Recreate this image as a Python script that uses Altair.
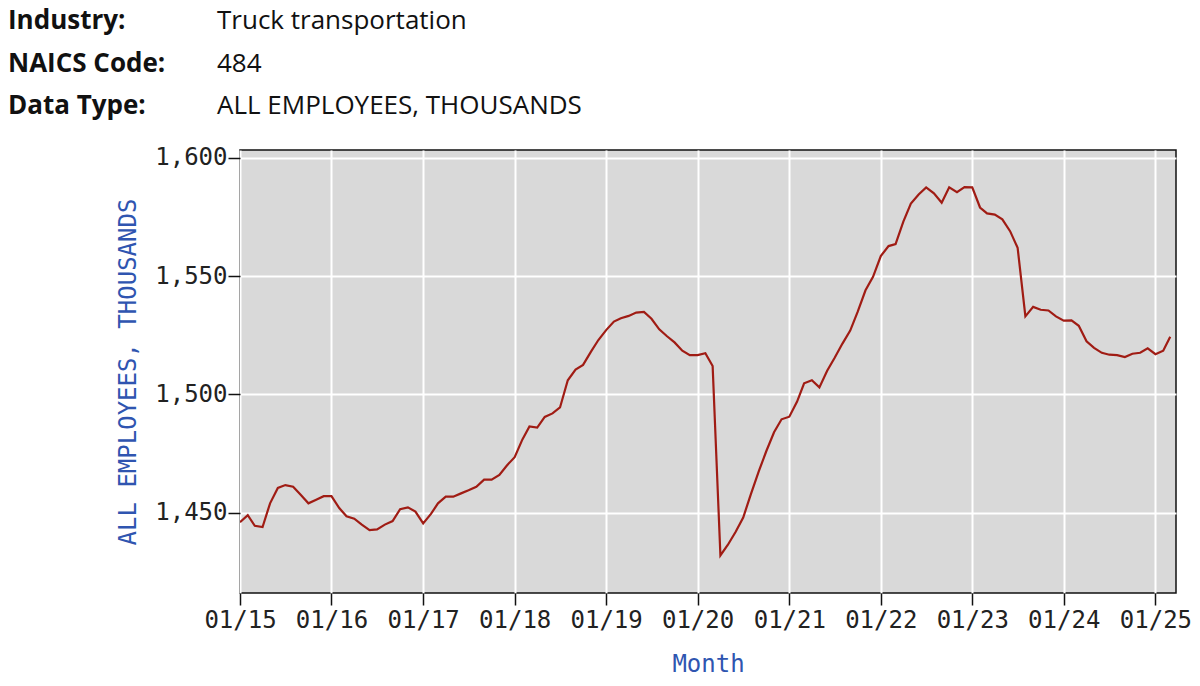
import altair as alt
import pandas as pd

# ---- data ----
header_labels = ["Industry:", "NAICS Code:", "Data Type:"]
header_values = ["Truck transportation", "484", "ALL EMPLOYEES, THOUSANDS"]

start_month = "2015-01-01"
employees = [
    # 2015
    1446.0, 1449.0, 1444.5, 1444.0, 1454.0, 1460.5, 1461.7, 1461.0, 1457.5, 1454.0, 1455.5, 1457.0,
    # 2016
    1457.0, 1452.0, 1448.5, 1447.5, 1445.0, 1442.7, 1443.0, 1445.0, 1446.5, 1451.5, 1452.3, 1450.5,
    # 2017
    1445.5, 1449.5, 1454.0, 1456.8, 1456.8, 1458.2, 1459.5, 1461.0, 1464.0, 1464.0, 1466.0, 1470.0,
    # 2018
    1473.5, 1481.0, 1486.5, 1486.0, 1490.5, 1492.0, 1494.5, 1506.0, 1510.5, 1512.5, 1518.0, 1523.0,
    # 2019
    1527.2, 1530.8, 1532.2, 1533.2, 1534.6, 1534.9, 1532.0, 1527.5, 1524.6, 1522.0, 1518.5, 1516.6,
    # 2020
    1516.6, 1517.4, 1512.0, 1432.0, 1436.5, 1442.0, 1448.0, 1458.0, 1467.5, 1476.0, 1484.0, 1489.5,
    # 2021
    1490.6, 1497.0, 1504.7, 1506.0, 1503.0, 1510.0, 1515.5, 1521.5, 1527.0, 1535.0, 1544.0, 1549.7,
    # 2022
    1558.5, 1562.7, 1563.5, 1573.0, 1580.7, 1584.5, 1587.5, 1585.0, 1581.0, 1587.5, 1585.5, 1587.6,
    # 2023
    1587.5, 1579.0, 1576.5, 1576.0, 1574.0, 1569.0, 1562.0, 1533.0, 1537.0, 1535.8, 1535.5, 1533.0,
    # 2024
    1531.2, 1531.3, 1529.0, 1522.5, 1519.7, 1517.6, 1516.8, 1516.6, 1515.8, 1517.2, 1517.6, 1519.5,
    # 2025
    1517.0, 1518.5, 1524.4,
]
x_tick_years = list(range(2015, 2026))
y_ticks = [1450, 1500, 1550, 1600]

months = pd.date_range(start_month, periods=len(employees), freq="MS").strftime("%Y-%m-%d")
df = pd.DataFrame({"month": months, "value": employees})

TICK_FONT = "DejaVu Sans Mono"
BLUE = "#2f55b0"

line = alt.Chart(df).mark_line(color="#a01c14", strokeWidth=2.2, clip=True).encode(
    x=alt.X(
        "month:T",
        scale=alt.Scale(
            type="utc",
            domain=[alt.DateTime(year=2015, month=1, date=1, utc=True),
                    alt.DateTime(year=2025, month=3, date=24, utc=True)],
            nice=False,
        ),
        axis=alt.Axis(
            title="Month",
            values=[alt.DateTime(year=y, month=1, date=1, utc=True) for y in x_tick_years],
            format="%m/%y",
            grid=True,
            gridColor="white",
            gridWidth=2,
            gridOpacity=1,
            domain=False,
            ticks=True,
            tickSize=12,
            tickColor="#111",
            tickWidth=1.5,
            labelFont=TICK_FONT,
            labelFontSize=24,
            labelColor="#222",
            labelPadding=3,
            labelFlush=False,
            titleFont=TICK_FONT,
            titleFontSize=24,
            titleFontWeight="normal",
            titleColor=BLUE,
            titlePadding=20,
        ),
    ),
    y=alt.Y(
        "value:Q",
        scale=alt.Scale(domain=[1416.1, 1603.3], nice=False, zero=False),
        axis=alt.Axis(
            title="ALL EMPLOYEES, THOUSANDS",
            values=y_ticks,
            format=",d",
            grid=True,
            gridColor="white",
            gridWidth=2,
            gridOpacity=1,
            domain=False,
            ticks=True,
            tickSize=12,
            tickColor="#111",
            tickWidth=1.5,
            labelFont=TICK_FONT,
            labelFontSize=24,
            labelColor="#222",
            labelPadding=1,
            titleFont=TICK_FONT,
            titleFontSize=24,
            titleFontWeight="normal",
            titleColor=BLUE,
            titlePadding=14,
        ),
    ),
)

layers = [line]
row_baselines = [-121.0, -78.5, -36.0]
for lab, val, yb in zip(header_labels, header_values, row_baselines):
    layers.append(
        alt.Chart(pd.DataFrame({"t": [lab]})).mark_text(
            align="left", baseline="alphabetic", font="Open Sans", fontSize=26,
            fontWeight="bold", color="#111"
        ).encode(text="t:N", x=alt.value(-232), y=alt.value(yb))
    )
    layers.append(
        alt.Chart(pd.DataFrame({"t": [val]})).mark_text(
            align="left", baseline="alphabetic", font="Open Sans", fontSize=26,
            fontWeight="normal", color="#111"
        ).encode(text="t:N", x=alt.value(-23), y=alt.value(yb))
    )

chart = alt.layer(*layers).properties(
    width=936,
    height=443,
    autosize=alt.AutoSizeParams(type="none"),
    padding={"left": 232, "top": 142, "right": 16, "bottom": 85},
    background="white",
).configure_view(
    fill="#d9d9d9",
    stroke="#111",
    strokeWidth=1.5,
)

chart.save("out.html", embed_options={"renderer": "svg", "actions": False})
